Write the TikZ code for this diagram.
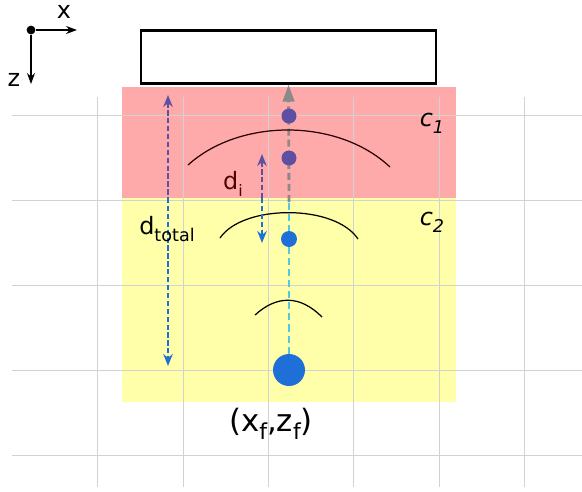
\documentclass[tikz,border=0pt]{standalone}
\usepackage{fontspec}
\setmainfont{DejaVu Sans}
\usetikzlibrary{arrows.meta,positioning,calc,backgrounds}
\definecolor{layerone}{HTML}{FFAAAA}
\definecolor{layertwo}{HTML}{FFFFAA}
\definecolor{purp}{HTML}{5E4FA2}
\definecolor{blu}{HTML}{1F6FD9}
\definecolor{cyn}{HTML}{55C8E0}
\definecolor{dred}{HTML}{500000}
\definecolor{raygray}{HTML}{8A8A8A}
\newcommand{\lsub}[2]{\raisebox{-0.28em}{\fontsize{#1}{#1}\selectfont #2}}
\begin{document}
\begin{tikzpicture}[x=0.02cm,y=-0.02cm,every node/.style={font=\fontsize{13.6}{16}\selectfont,inner sep=1pt},
 gridline/.style={draw=gray!35,line width=0.5pt},
 dot/.style={circle,inner sep=0pt,draw=none},
 wave/.style={line width=0.7pt},
 dist/.style={dashed,line width=1.1pt,dash pattern=on 3pt off 1.5pt},
 ray/.style={dashed,line width=1.6pt,dash pattern=on 4pt off 2.3pt},
 axis/.style={-{Stealth[length=2.2mm,width=1.6mm]},line width=0.6pt}]
\useasboundingbox (0,0) rectangle (582,491);
% axes
\node[dot,fill=black,minimum size=5pt] (orig) at (31,30) {};
\coordinate (xend) at (77,30);
\coordinate (zend) at (31,84);
\draw[axis] (orig) -- (xend);
\draw[axis] (orig) -- (zend);
\node (xl) at (64,12) {x};
\node (zl) at (14,80) {z};
% receiver
\node[draw,line width=1.6pt,minimum width=5.9cm,minimum height=1.05cm] (rcv) at (288.5,57) {};
% sources
\node[dot,fill=blu,minimum size=0.64cm] (src) at (289,370) {};
\node[dot,fill=blu,minimum size=0.32cm] (s2) at (289,239) {};
\node[dot,fill=purp,minimum size=0.3cm] (s1) at (289,158) {};
\node[dot,fill=purp,minimum size=0.3cm] (s0) at (289,116) {};
\begin{scope}[on background layer]
% layers and grid
\fill[layerone] (122,87) rectangle (456,198);
\fill[layertwo] (122,198) rectangle (456,402);
\foreach \gx in {97,183,268,353,439,524} \draw[gridline] (\gx,97) -- (\gx,487);
\foreach \gy in {115,200,285,370,455} \draw[gridline] (12,\gy) -- (582,\gy);
% ray path
\coordinate (lb) at (289,202);
\draw[ray,cyn] (src) -- (lb);
\draw[ray,raygray,-{Triangle[length=3.4mm,width=2.3mm]}] (lb) -- (rcv.south);
\end{scope}
% wavefronts
\draw[wave,black!85!red] (188,165) .. controls (240,118) and (338,118) .. (390,167);
\draw[wave] (220,238) .. controls (243,204) and (335,204) .. (358,239);
\draw[wave] (255,315) .. controls (277,295) and (300,295) .. (322,317);
% distances
\coordinate (dt0) at (168,95);
\coordinate (dtm) at (168,198);
\coordinate (dt1) at (168,366);
\draw[dist,purp,{Stealth[length=2.4mm,width=1.9mm]}-] (dt0) -- (dtm);
\draw[dist,blu,-{Stealth[length=2.4mm,width=1.9mm]}] (dtm) -- (dt1);
\coordinate (di0) at (262,154);
\coordinate (dim) at (262,198);
\coordinate (di1) at (262,243);
\draw[dist,purp,{Stealth[length=2.4mm,width=1.9mm]}-] (di0) -- (dim);
\draw[dist,blu,-{Stealth[length=2.4mm,width=1.9mm]}] (dim) -- (di1);
% labels
\node[text=dred] (dil) at (233,184) {d\lsub{9}{i}};
\node (dtl) at (167,229) {d\lsub{10}{total}};
\node (c1) at (432,123) {\itshape c\lsub{10}{1}};
\node (c2) at (432,222) {\itshape c\lsub{10}{2}};
\node[font=\fontsize{17.5}{20}\selectfont] (pos) at (271,424) {(x\lsub{12.5}{f},z\lsub{12.5}{f})};
\end{tikzpicture}
\end{document}
